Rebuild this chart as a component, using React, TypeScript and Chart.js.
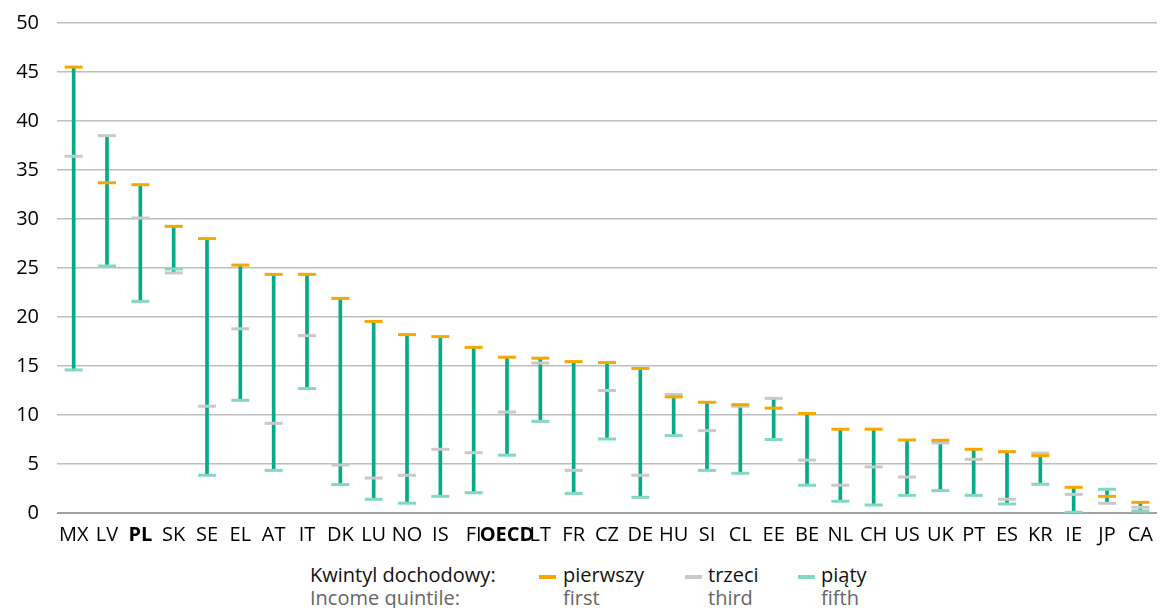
import React, { useEffect, useRef } from "react";
import { Chart, registerables } from "chart.js";

Chart.register(...registerables);

const categories = ["MX","LV","PL","SK","SE","EL","AT","IT","DK","LU","NO","IS","FI","OECD","LT","FR","CZ","DE","HU","SI","CL","EE","BE","NL","CH","US","UK","PT","ES","KR","IE","JP","CA"];
const boldCategories = ["PL", "OECD"];

const firstQuintile = [45.5,33.7,33.5,29.25,28.0,25.3,24.35,24.35,21.9,19.55,18.2,18.0,16.9,15.9,15.8,15.45,15.35,14.75,11.85,11.3,11.05,10.7,10.15,8.55,8.55,7.45,7.42,6.5,6.26,5.85,2.62,1.7,1.09];
const thirdQuintile = [36.4,38.5,30.1,24.5,10.9,18.8,9.15,18.1,4.9,3.57,3.85,6.5,6.15,10.3,15.3,4.35,12.5,3.85,12.1,8.4,10.9,11.7,5.4,2.83,4.7,3.67,7.15,5.48,1.4,6.1,1.9,0.99,0.58];
const fifthQuintile = [14.6,25.2,21.6,24.9,3.85,11.5,4.35,12.7,2.9,1.4,1.0,1.7,2.07,5.9,9.35,2.0,7.55,1.6,7.9,4.35,4.05,7.5,2.83,1.2,0.82,1.8,2.28,1.8,0.92,2.93,0.07,2.42,0.2];

const yMin = 0;
const yMax = 50;
const yStep = 5;

const legendTitlePl = "Kwintyl dochodowy:";
const legendTitleEn = "Income quintile:";
const legendItems = [
  { pl: "pierwszy", en: "first", color: "#F7A800" },
  { pl: "trzeci", en: "third", color: "#C9C9C9" },
  { pl: "piąty", en: "fifth", color: "#84D8C2" },
];

const FONT = "'Open Sans', sans-serif";

export default function App() {
  const canvasRef = useRef<HTMLCanvasElement | null>(null);

  useEffect(() => {
    if (!canvasRef.current) return;
    const ranges = categories.map((_, i) => {
      const vals = [firstQuintile[i], thirdQuintile[i], fifthQuintile[i]];
      return [Math.min(...vals), Math.max(...vals)];
    });
    const markerDs = (label: string, data: number[], color: string, order: number) => ({
      type: "line" as const,
      label,
      data,
      showLine: false,
      pointStyle: "line" as const,
      pointRadius: 9,
      pointHoverRadius: 9,
      pointBorderWidth: 3,
      pointBorderColor: color,
      pointBackgroundColor: color,
      borderColor: color,
      order,
    });
    const chart = new Chart(canvasRef.current, {
      type: "bar",
      data: {
        labels: categories,
        datasets: [
          {
            type: "bar",
            label: "range",
            data: ranges as any,
            backgroundColor: "#05AA86",
            barThickness: 3,
            order: 10,
          } as any,
          markerDs("piąty", fifthQuintile, legendItems[2].color, 3),
          markerDs("trzeci", thirdQuintile, legendItems[1].color, 2),
          markerDs("pierwszy", firstQuintile, legendItems[0].color, 1),
        ],
      },
      options: {
        animation: false,
        responsive: true,
        maintainAspectRatio: false,
        layout: { padding: { top: 23, right: 6, left: 0, bottom: 0 } },
        plugins: { legend: { display: false }, tooltip: { enabled: false } },
        scales: {
          x: {
            grid: { display: false, drawTicks: false },
            border: { display: false },
            afterFit: (scale: any) => { scale.height = 47; },
            ticks: {
              padding: 10,
              color: "#000",
              autoSkip: false,
              maxRotation: 0,
              font: (ctx: any) => ({
                family: FONT,
                size: 20,
                weight: boldCategories.includes(categories[ctx.index]) ? "bold" : "normal",
              }),
            },
          },
          y: {
            min: yMin,
            max: yMax,
            afterFit: (scale: any) => {
              scale.width = 57;
              scale.paddingTop = 0;
              scale.paddingBottom = 0;
            },
            border: { display: false },
            grid: {
              drawTicks: false,
              color: (ctx: any) => (ctx.tick && ctx.tick.value === 0 ? "#A3A3A3" : "#BEBEBE"),
              lineWidth: (ctx: any) => (ctx.tick && ctx.tick.value === 0 ? 2 : 1.5),
            },
            ticks: {
              stepSize: yStep,
              padding: 18,
              color: "#000",
              font: { family: FONT, size: 20 },
            },
          },
        },
      },
    });
    return () => chart.destroy();
  }, []);

  const textStyle: React.CSSProperties = { position: "absolute", fontFamily: FONT, fontSize: 20, whiteSpace: "nowrap", lineHeight: "23px" };
  const legendX = [539, 685, 798];
  const textX = [563, 708, 821];

  return (
    <div style={{ position: "absolute", left: 0, top: 0, width: 1169, height: 608, background: "#fff" }}>
      <div style={{ position: "absolute", left: 0, top: 0, width: 1169, height: 560 }}>
        <canvas ref={canvasRef} />
      </div>
      <div style={{ ...textStyle, left: 310, top: 563, color: "#111" }}>{legendTitlePl}</div>
      <div style={{ ...textStyle, left: 310, top: 586, color: "#666" }}>{legendTitleEn}</div>
      {legendItems.map((it, i) => (
        <React.Fragment key={it.pl}>
          <div style={{ position: "absolute", left: legendX[i], top: 575, width: 17, height: 4, background: it.color }} />
          <div style={{ ...textStyle, left: textX[i], top: 563, color: "#111" }}>{it.pl}</div>
          <div style={{ ...textStyle, left: textX[i], top: 586, color: "#666" }}>{it.en}</div>
        </React.Fragment>
      ))}
    </div>
  );
}
